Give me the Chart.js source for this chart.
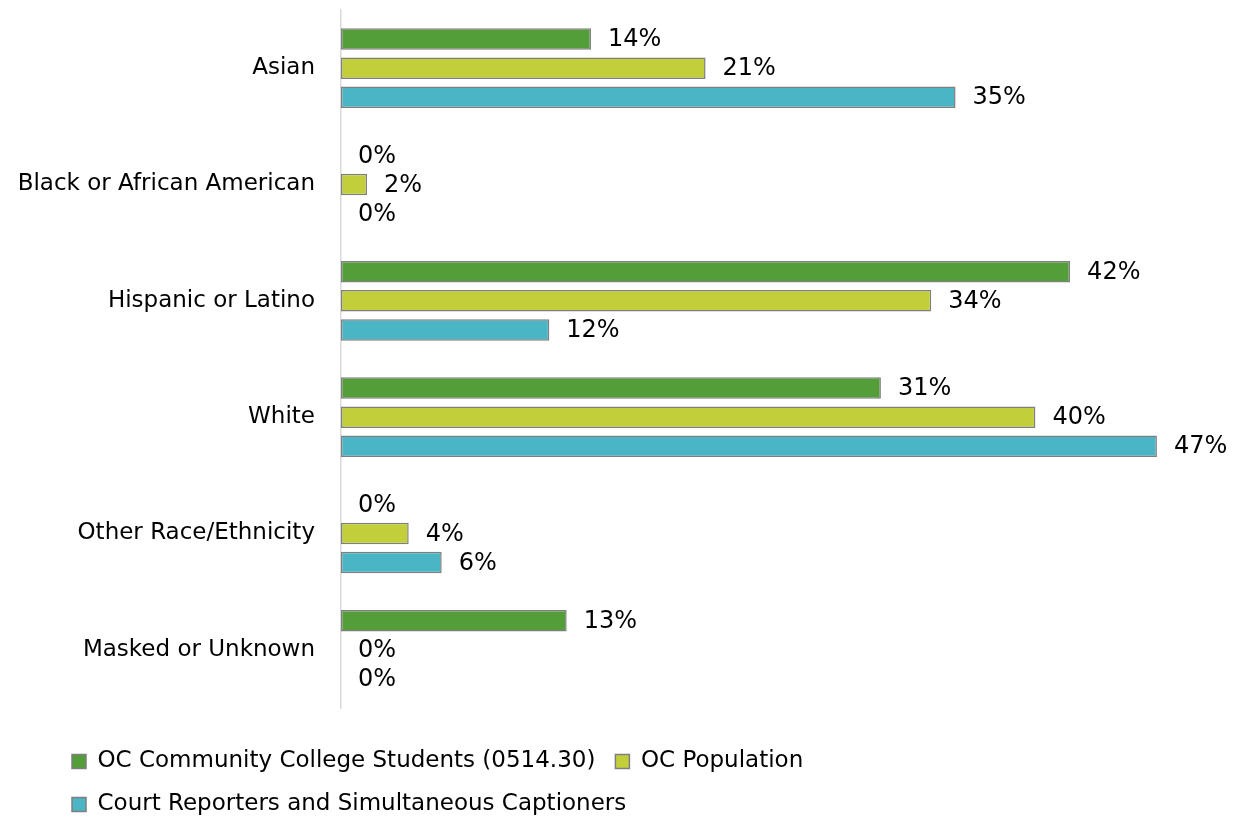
<!DOCTYPE html>
<html>
<head>
<meta charset="utf-8">
<script src="https://cdn.jsdelivr.net/npm/chart.js@4.4.1/dist/chart.umd.min.js"></script>
<style>
  html, body { margin: 0; padding: 0; background: #fff; overflow: hidden; }
  #wrap { width: 1239px; height: 823px; }
</style>
</head>
<body>
<div id="wrap"><canvas id="barChart"></canvas></div>
<script>
// categories and series (percent)
var categories = ["Asian", "Black or African American", "Hispanic or Latino", "White", "Other Race/Ethnicity", "Masked or Unknown"];
var seriesNames = ["OC Community College Students (0514.30)", "OC Population", "Court Reporters and Simultaneous Captioners"];
var collegeStudents = [14.4, 0, 42, 31.1, 0, 13];
var ocPopulation = [21, 1.5, 34, 40, 3.9, 0];
var courtReporters = [35.4, 0, 12, 47, 5.8, 0];
var seriesColors = ["#549E39", "#C2CF3B", "#4AB5C4"];

var fontFamily = "'DejaVu Sans', sans-serif";

// draws the "14%" style labels just past the end of each bar
var barValueLabels = {
    id: "barValueLabels",
    afterLayout: function (chart) {
        // let the long category names run into the left padding instead of being clipped
        chart.scales.y.left = 0;
    },
    afterDatasetsDraw: function (chart) {
        var ctx = chart.ctx;
        ctx.save();
        ctx.font = "24px " + fontFamily;
        ctx.fillStyle = "#000";
        ctx.textAlign = "left";
        ctx.textBaseline = "middle";
        chart.data.datasets.forEach(function (ds, i) {
            var meta = chart.getDatasetMeta(i);
            meta.data.forEach(function (bar, j) {
                ctx.fillText(Math.round(ds.data[j]) + "%", bar.x + 17, bar.y + 1);
            });
        });
        ctx.restore();
    }
};

var datasets = [collegeStudents, ocPopulation, courtReporters].map(function (values, i) {
    return {
        label: seriesNames[i],
        data: values,
        backgroundColor: seriesColors[i],
        borderColor: "#7F7F7F",
        borderWidth: 1.5,
        borderSkipped: false,
        categoryPercentage: 0.75,
        barPercentage: 0.74
    };
});

var ctx = document.getElementById("barChart");
var chart = new Chart(ctx, {
    type: "bar",
    data: {
        labels: categories,
        datasets: datasets
    },
    options: {
        indexAxis: "y",
        responsive: true,
        maintainAspectRatio: false,
        animation: false,
        layout: { padding: { top: 10, left: 52, right: 30, bottom: 0 } },
        scales: {
            x: {
                min: 0,
                max: 50,
                display: true,
                ticks: { display: false },
                grid: { display: false, drawTicks: false },
                border: { display: false },
                afterFit: function (scale) { scale.height = 22; }
            },
            y: {
                grid: { display: false, drawTicks: false },
                border: { display: true, color: "#D9D9D9", width: 1.5 },
                ticks: {
                    color: "#000",
                    padding: 26,
                    font: { family: fontFamily, size: 23 }
                },
                afterFit: function (scale) {
                    scale.width = 341 - 52;
                    scale.paddingTop = 0;
                    scale.paddingBottom = 0;
                }
            }
        },
        plugins: {
            legend: {
                position: "bottom",
                align: "start",
                maxHeight: 93,
                labels: {
                    boxWidth: 14,
                    boxHeight: 14,
                    padding: 20,
                    color: "#000",
                    font: { family: fontFamily, size: 23 }
                }
            },
            tooltip: { enabled: false }
        }
    },
    plugins: [barValueLabels]
});
</script>
</body>
</html>
